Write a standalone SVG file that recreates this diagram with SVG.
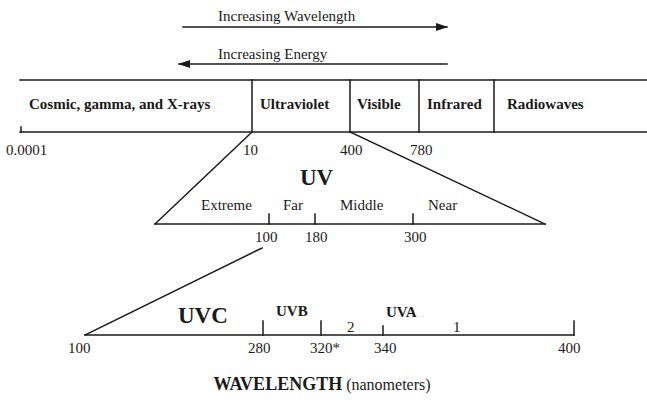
<svg xmlns="http://www.w3.org/2000/svg" width="647" height="405" viewBox="0 0 647 405">
  <style>
    .ln { stroke: #1a1a1a; stroke-width: 1.5; fill: none; stroke-linecap: square; }
    .t { font-family: "Liberation Serif", "Times New Roman", serif; fill: #1a1a1a; font-size: 15px; }
    .b { font-weight: bold; }
    .big { font-size: 23px; }
    .title { font-size: 18px; }
    .sub { font-size: 16px; font-weight: normal; }
  </style>
  <defs>
    <marker id="head" viewBox="0 0 12 8" refX="11" refY="4" markerWidth="12" markerHeight="8" markerUnits="userSpaceOnUse" orient="auto">
      <path d="M0,0 L12,4 L0,8 Z" fill="#1a1a1a"/>
    </marker>
  </defs>
  <rect width="647" height="405" fill="#ffffff"/>

  <!-- direction arrows -->
  <g id="arrow-wavelength">
    <line class="ln" x1="183" y1="27" x2="447" y2="27" marker-end="url(#head)"/>
    <text class="t" x="218" y="21">Increasing Wavelength</text>
  </g>
  <g id="arrow-energy">
    <line class="ln" x1="447" y1="64" x2="179" y2="64" marker-end="url(#head)"/>
    <text class="t" x="218" y="59">Increasing Energy</text>
  </g>

  <!-- electromagnetic spectrum band -->
  <g id="spectrum-band">
    <line class="ln" x1="20" y1="80" x2="647" y2="80"/>
    <line class="ln" x1="20" y1="132" x2="647" y2="132"/>
    <line class="ln" x1="21" y1="127" x2="21" y2="132"/>
    <line class="ln" x1="252" y1="80" x2="252" y2="132"/>
    <line class="ln" x1="350" y1="80" x2="350" y2="132"/>
    <line class="ln" x1="419" y1="80" x2="419" y2="132"/>
    <line class="ln" x1="494" y1="80" x2="494" y2="132"/>
  </g>
  <g id="band-cosmic"><text class="t b" x="29" y="109">Cosmic, gamma, and X-rays</text></g>
  <g id="band-ultraviolet"><text class="t b" x="260" y="109">Ultraviolet</text></g>
  <g id="band-visible"><text class="t b" x="357" y="109">Visible</text></g>
  <g id="band-infrared"><text class="t b" x="427" y="109">Infrared</text></g>
  <g id="band-radiowaves"><text class="t b" x="507" y="109">Radiowaves</text></g>
  <g id="band-scale">
    <text class="t" x="6" y="155">0.0001</text>
    <text class="t" x="243" y="155">10</text>
    <text class="t" x="340" y="155">400</text>
    <text class="t" x="410" y="155">780</text>
  </g>

  <!-- connectors: zoom-in lines between the scales -->
  <g id="connectors">
    <line class="ln" x1="252" y1="132" x2="155" y2="224"/>
    <line class="ln" x1="350" y1="132" x2="545" y2="224"/>
    <line class="ln" x1="262" y1="248" x2="85" y2="335"/>
  </g>

  <!-- UV detail scale -->
  <g id="uv-scale">
    <line class="ln" x1="155" y1="224" x2="545" y2="224"/>
    <line class="ln" x1="269" y1="214" x2="269" y2="224"/>
    <line class="ln" x1="315" y1="214" x2="315" y2="224"/>
    <line class="ln" x1="413" y1="214" x2="413" y2="224"/>
    <text class="t b big" x="300" y="185">UV</text>
    <text class="t" x="201" y="210">Extreme</text>
    <text class="t" x="283" y="210">Far</text>
    <text class="t" x="340" y="210">Middle</text>
    <text class="t" x="428" y="210">Near</text>
    <text class="t" x="255" y="242">100</text>
    <text class="t" x="305" y="242">180</text>
    <text class="t" x="404" y="242">300</text>
  </g>

  <!-- UVC / UVB / UVA scale -->
  <g id="uvc-scale">
    <line class="ln" x1="85" y1="335" x2="574" y2="335"/>
    <line class="ln" x1="263" y1="321" x2="263" y2="335"/>
    <line class="ln" x1="321" y1="321" x2="321" y2="335"/>
    <line class="ln" x1="383" y1="326" x2="383" y2="335"/>
    <line class="ln" x1="574" y1="321" x2="574" y2="335"/>
    <text class="t b big" x="178" y="323">UVC</text>
    <text class="t b" x="276" y="316">UVB</text>
    <text class="t b" x="386" y="317">UVA</text>
    <text class="t" x="347" y="332">2</text>
    <text class="t" x="453" y="332">1</text>
    <text class="t" x="68" y="353">100</text>
    <text class="t" x="248" y="353">280</text>
    <text class="t" x="310" y="353">320*</text>
    <text class="t" x="374" y="353">340</text>
    <text class="t" x="558" y="353">400</text>
  </g>

  <g id="axis-title">
    <text class="t b title" x="322" y="390" text-anchor="middle">WAVELENGTH<tspan class="sub"> (nanometers)</tspan></text>
  </g>
</svg>
